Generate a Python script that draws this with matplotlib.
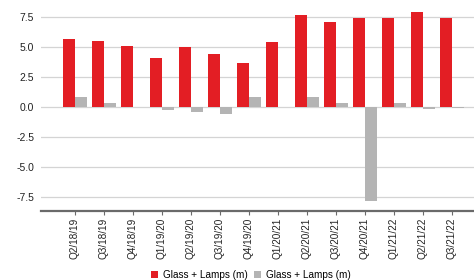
#!/usr/bin/env python3
"""Quarterly change chart: Glass + Lamps (m), two series as grouped bars."""

import matplotlib
matplotlib.use("Agg")
import matplotlib.pyplot as plt
import numpy as np

quarters = [
    "Q2/18/19", "Q3/18/19", "Q4/18/19", "Q1/19/20", "Q2/19/20", "Q3/19/20",
    "Q4/19/20", "Q1/20/21", "Q2/20/21", "Q3/20/21", "Q4/20/21", "Q1/21/22",
    "Q2/21/22", "Q3/21/22",
]
red_values = [5.72, 5.56, 5.08, 4.06, 5.03, 4.44, 3.69, 5.42, 7.72, 7.11,
              7.44, 7.44, 7.97, 7.42]
grey_values = [0.80, 0.33, 0.0, -0.25, -0.40, -0.58, 0.83, 0.02, 0.83, 0.33,
               -7.86, 0.30, -0.15, -0.08]
series_label = "Glass + Lamps (m)"

RED = "#e31e24"
GREY = "#b4b4b4"

plt.rcParams["font.family"] = ["Liberation Sans", "DejaVu Sans"]

fig = plt.figure(figsize=(4.74, 2.8), dpi=100)
ax = fig.add_axes([41 / 474, 1 - 211 / 280, 1 - 41 / 474, 208 / 280])

x = np.arange(len(quarters))
width = 0.4
ax.bar(x - width / 2, red_values, width, color=RED, label=series_label, zorder=3)
ax.bar(x + width / 2, grey_values, width, color=GREY, label=series_label, zorder=3)

ax.set_xlim(-1.17, 13.76)
ax.set_ylim(-8.7, 8.7)
ax.set_yticks([-7.5, -5.0, -2.5, 0.0, 2.5, 5.0, 7.5])
ax.set_yticklabels(["-7.5", "-5.0", "-2.5", "0.0", "2.5", "5.0", "7.5"])
ax.set_xticks(x)
ax.set_xticklabels(quarters, rotation=90)

ax.grid(axis="y", color="#d4d4d4", linewidth=0.9, zorder=0)
for side in ["top", "right", "left"]:
    ax.spines[side].set_visible(False)
ax.spines["bottom"].set_color("#6a6a6a")
ax.spines["bottom"].set_linewidth(1.6)
ax.tick_params(axis="y", length=0, pad=5, labelsize=7.5, labelcolor="#222222")
ax.tick_params(axis="x", length=3, width=0.8, color="#6a6a6a", pad=2,
               labelsize=7.2, labelcolor="#222222")

fig.legend(loc="center", bbox_to_anchor=(0.53, 1 - 275 / 280), ncol=2,
           frameon=False, fontsize=7.2, handlelength=0.7, handleheight=0.7,
           handletextpad=0.5, columnspacing=0.6, borderaxespad=0)

fig.savefig("out.png", dpi=100)
